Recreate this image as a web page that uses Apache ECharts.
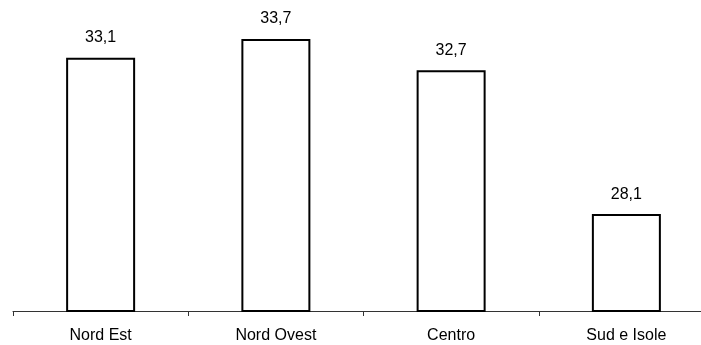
<!DOCTYPE html>
<html>
<head>
<meta charset="utf-8">
<script src="https://cdn.jsdelivr.net/npm/echarts@6/dist/echarts.min.js"></script>
<style>
  html, body { margin: 0; padding: 0; background: #fff; overflow: hidden; }
  /* the last category boundary sits just past the right edge of the page */
  #chart { width: 714px; height: 345px; }
</style>
</head>
<body>
<div id="chart"></div>
<script>
// Regions and their values
const categories = ['Nord Est', 'Nord Ovest', 'Centro', 'Sud e Isole'];
const values = [33.1, 33.7, 32.7, 28.1];

// Value axis range (axis itself is hidden)
const yMin = 25;
const yMax = 34.95;

const chart = echarts.init(document.getElementById('chart'), null, { renderer: 'canvas' });

chart.setOption({
  animation: false,
  backgroundColor: '#ffffff',
  textStyle: { fontFamily: '"Liberation Sans", Arial, sans-serif' },
  grid: { left: 13, right: 0, top: 0, bottom: 34, containLabel: false },
  xAxis: {
    type: 'category',
    data: categories,
    boundaryGap: true,
    axisLine: { show: true, lineStyle: { color: '#333', width: 1 } },
    axisTick: { show: true, length: 5, alignWithLabel: false, lineStyle: { color: '#333', width: 1 } },
    axisLabel: { color: '#000', fontSize: 16, margin: 17, fontFamily: '"Liberation Sans", Arial, sans-serif' }
  },
  yAxis: {
    type: 'value',
    min: yMin,
    max: yMax,
    show: false,
    splitLine: { show: false }
  },
  series: [{
    type: 'bar',
    data: values,
    barWidth: 69,
    itemStyle: { color: '#ffffff', borderColor: '#000', borderWidth: 2 },
    label: {
      show: true,
      position: 'top',
      distance: 12,
      color: '#000',
      fontSize: 16,
      fontFamily: '"Liberation Sans", Arial, sans-serif',
      formatter: p => String(p.value).replace('.', ',')
    }
  }]
});
</script>
</body>
</html>
